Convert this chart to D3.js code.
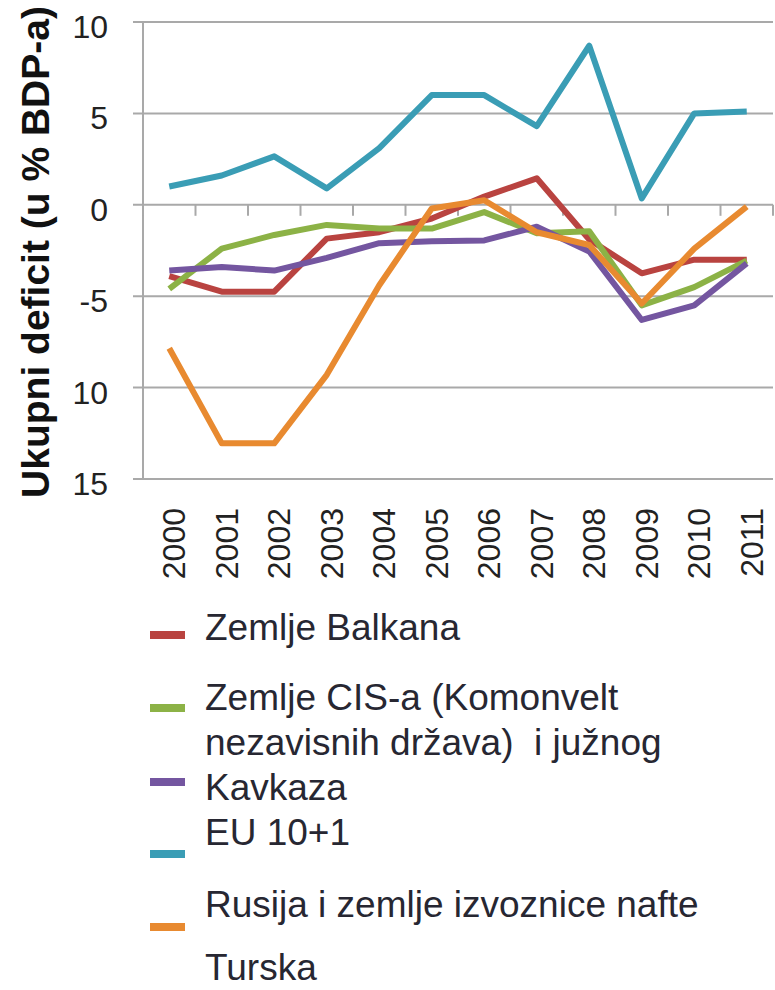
<!DOCTYPE html>
<html>
<head>
<meta charset="utf-8">
<script src="https://cdn.jsdelivr.net/npm/d3@7"></script>
<style>
  body { margin: 0; background: #fff; }
</style>
</head>
<body>
<div id="chart"></div>
<script>
// data
const years = ["2000", "2001", "2002", "2003", "2004", "2005", "2006", "2007", "2008", "2009", "2010", "2011"];
const balkan = [-3.9, -4.75, -4.75, -1.85, -1.5, -0.75, 0.45, 1.45, -1.9, -3.75, -3.0, -3.0];
const cis = [-4.6, -2.4, -1.65, -1.1, -1.3, -1.3, -0.4, -1.55, -1.45, -5.5, -4.5, -3.05];
const kavkaz = [-3.6, -3.4, -3.6, -2.9, -2.1, -2.0, -1.95, -1.2, -2.55, -6.3, -5.5, -3.2];
const eu = [1.0, 1.6, 2.65, 0.9, 3.1, 6.0, 6.0, 4.3, 8.7, 0.35, 5.0, 5.1];
const rusija = [-7.85, -13.05, -13.05, -9.3, -4.4, -0.2, 0.25, -1.5, -2.2, -5.4, -2.4, -0.1];
const yTicks = [10, 5, 0, -5, -10, -15];
const yTickLabels = ["10", "5", "0", "-5", "10", "15"];
const legendTexts = [
    ["Zemlje Balkana"],
    ["Zemlje CIS-a (Komonvelt", "nezavisnih država)  i južnog", "Kavkaza"],
    ["EU 10+1"],
    ["Rusija i zemlje izvoznice nafte"],
    ["Turska"]
];
const yTitle = "Ukupni deficit (u % BDP-a)";

const series = [balkan, cis, kavkaz, eu, rusija];
const colors = ["#b94340", "#8cb246", "#7456a0", "#3a9db5", "#e88a30"];

let width = 775, height = 990;
let plotLeft = 143, plotRight = 773, plotTop = 22, plotBottom = 479;

let svg = d3.select("#chart")
    .append("svg")
    .attr("width", width)
    .attr("height", height)
    .style("font-family", "'Liberation Sans', Arial, sans-serif");

let x = d3.scaleBand().domain(years).range([plotLeft, plotRight]);
let y = d3.scaleLinear().domain([10, -15]).range([plotTop, plotBottom]);
let cx = d => x(d) + x.bandwidth() / 2;

// gridlines + y ticks
svg.append("g")
    .selectAll("line")
    .data(yTicks)
    .enter()
    .append("line")
    .attr("x1", plotLeft - 10)
    .attr("x2", plotRight)
    .attr("y1", d => y(d))
    .attr("y2", d => y(d))
    .attr("stroke", "#a9a9a9")
    .attr("stroke-width", 2);

// y axis line
svg.append("line")
    .attr("x1", plotLeft).attr("x2", plotLeft)
    .attr("y1", y(10)).attr("y2", y(-15))
    .attr("stroke", "#a9a9a9")
    .attr("stroke-width", 2);

// x axis at zero, ticks between categories
let bounds = years.map(d => x(d)).concat([plotRight]);
svg.append("g")
    .selectAll("line")
    .data(bounds)
    .enter()
    .append("line")
    .attr("x1", d => d).attr("x2", d => d)
    .attr("y1", y(0)).attr("y2", y(0) + 11)
    .attr("stroke", "#a9a9a9")
    .attr("stroke-width", 2);

// y tick labels
svg.append("g")
    .selectAll("text")
    .data(yTicks)
    .enter()
    .append("text")
    .attr("x", 108)
    .attr("y", d => y(d) + 16)
    .attr("text-anchor", "end")
    .attr("font-size", "32px")
    .attr("fill", "#222")
    .text((d, i) => yTickLabels[i]);

// x tick labels, rotated
svg.append("g")
    .selectAll("text")
    .data(years)
    .enter()
    .append("text")
    .attr("transform", d => "translate(" + (cx(d) + 16) + ",508) rotate(-90)")
    .attr("text-anchor", "end")
    .attr("font-size", "32px")
    .attr("fill", "#222")
    .text(d => d);

// y title
svg.append("text")
    .attr("transform", "translate(49,252) rotate(-90)")
    .attr("text-anchor", "middle")
    .attr("font-size", "39px")
    .attr("font-weight", "bold")
    .attr("fill", "#111")
    .text(yTitle);

// lines
let line = d3.line()
    .x((d, i) => cx(years[i]))
    .y(d => y(d));

svg.append("g")
    .selectAll("path")
    .data(series)
    .enter()
    .append("path")
    .attr("d", d => line(d))
    .attr("fill", "none")
    .attr("stroke", (d, i) => colors[i])
    .attr("stroke-width", 6)
    .attr("stroke-linejoin", "round");

// legend (swatches and wrapped texts don't line up, as in the picture)
let swatchY = [635, 708, 782, 854, 927];
svg.append("g")
    .selectAll("line")
    .data(colors)
    .enter()
    .append("line")
    .attr("x1", 150).attr("x2", 185)
    .attr("y1", (d, i) => swatchY[i])
    .attr("y2", (d, i) => swatchY[i])
    .attr("stroke", d => d)
    .attr("stroke-width", 8);

let entryY = [640, 710, 845, 917, 980];
legendTexts.forEach(function (lines, i) {
    lines.forEach(function (t, j) {
        svg.append("text")
            .attr("x", 205)
            .attr("y", entryY[i] + j * 45)
            .attr("font-size", "37px")
            .attr("fill", "#272732")
            .style("white-space", "pre")
            .text(t);
    });
});
</script>
</body>
</html>
